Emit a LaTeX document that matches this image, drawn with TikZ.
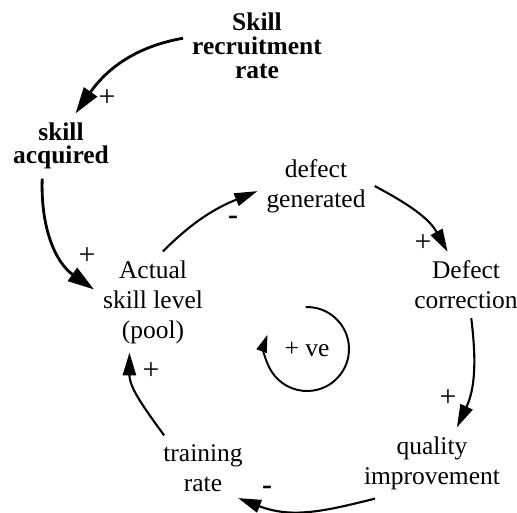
\documentclass[tikz,border=0pt]{standalone}
\usepackage{fontspec}
\setmainfont{Liberation Serif}
\usepackage{tikz}
\usetikzlibrary{arrows.meta, positioning, calc}

\begin{document}
\begin{tikzpicture}[
    x=0.02cm, y=0.02cm,
    every node/.style={font=\fontsize{14.5}{17}\selectfont},
    varnode/.style={align=center, inner sep=5pt},
    keynode/.style={align=center, inner sep=5pt, font=\fontsize{14.5}{13.5}\selectfont\bfseries},
    polarity/.style={inner sep=0pt, font=\fontsize{17}{17}\selectfont},
    arrow/.style={line width=1.2pt, -{Triangle[length=13pt, width=7.5pt]}},
    bigarrow/.style={line width=1.6pt, -{Triangle[length=15pt, width=9pt]}},
    loopline/.style={line width=1.1pt, -{Triangle[length=10pt, width=6pt]}}
]
    \useasboundingbox (0,0) rectangle (517,512);

    \node[keynode] (rec) at (257,466) {Skill\\recruitment\\rate};
    \node[keynode] (acq) at (61,366) {skill\\acquired};
    \node[varnode] (def) at (316,326) {defect\\generated};
    \node[varnode] (cor) at (466,227) {Defect\\correction};
    \node[varnode] (act) at (153,210) {Actual\\skill level\\(pool)};
    \node[varnode] (qual) at (432,49) {quality\\improvement};
    \node[varnode] (tra) at (203,44) {training\\rate};
    \node (ve) at (307,163) {+ ve};

    \draw[bigarrow] (rec.174) to[out=190, in=55] (acq.66);
    \draw[bigarrow] (acq.240) to[out=268, in=145] (act.168);
    \draw[arrow] (act.79) to[out=45, in=202] (def.185);
    \draw[arrow] (def.0) to[out=332, in=119] (cor.119);
    \draw[arrow] (cor.279) to[out=277, in=65] (qual.55);
    \draw[arrow, shorten >=-4pt] (qual.212) to[out=194, in=339] (tra.322);
    \draw[arrow] (tra.140) to[out=126, in=270] (act.245);

    % loop polarity
    \draw[loopline] ([shift={(92:42)}]ve.center) arc[start angle=92, end angle=-200, radius=42];

    \node[polarity] (p1) at (107,414) {+};
    \node[polarity] (p2) at (87,256) {+};
    \node[polarity] (m1) at (233,292) {\textbf{-}};
    \node[polarity] (p3) at (423,269) {+};
    \node[polarity] (p4) at (448,114) {+};
    \node[polarity] (m2) at (267,22) {\textbf{-}};
    \node[polarity] (p5) at (151,141) {+};
\end{tikzpicture}
\end{document}
